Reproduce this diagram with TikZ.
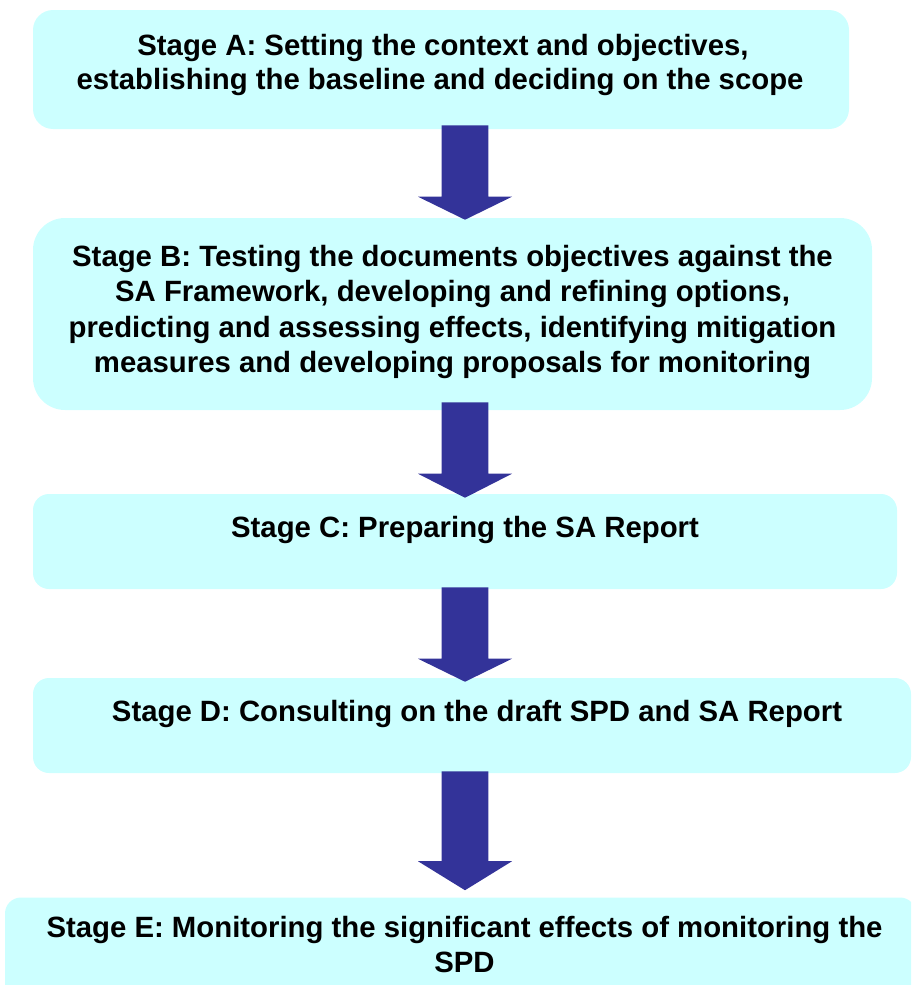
\documentclass[tikz,border=0pt]{standalone}
\usepackage{fontspec}
\setmainfont{Liberation Sans}
\usetikzlibrary{calc}
\definecolor{boxc}{HTML}{CCFFFF}
\definecolor{arrc}{HTML}{333399}
\begin{document}
\begin{tikzpicture}[x=0.75pt,y=-0.75pt,
  stagebox/.style={rectangle, fill=boxc, draw=none, inner sep=0pt},
  txt/.style={font=\fontsize{22pt}{26pt}\selectfont\bfseries, inner sep=0pt, anchor=base},
]
\useasboundingbox (0,0) rectangle (911,985);
\clip (0,0) rectangle (911,985);
% boxes
\node[stagebox, rounded corners=15pt, minimum width=612pt, minimum height=89.25pt] (A) at (441,69.5) {};
\node[stagebox, rounded corners=24pt, minimum width=629.25pt, minimum height=144pt] (B) at (452.5,314) {};
\node[stagebox, rounded corners=12pt, minimum width=648pt, minimum height=71.25pt] (C) at (465,541.5) {};
\node[stagebox, rounded corners=12pt, minimum width=658.5pt, minimum height=71.25pt] (D) at (472,725.5) {};
\node[stagebox, rounded corners=12pt, minimum width=683.25pt, minimum height=76.5pt] (E) at (460.5,948.5) {};
% texts
\node[txt] (A1) at (443,55) {Stage A: Setting the context and objectives,};
\node[txt] (A2) at (440,89) {establishing the baseline and deciding on the scope};
\node[txt] (B1) at (452.5,266) {Stage B: Testing the documents objectives against the};
\node[txt] (B2) at (452.5,301) {SA Framework, developing and refining options,};
\node[txt] (B3) at (452.5,337) {predicting and assessing effects, identifying mitigation};
\node[txt] (B4) at (452.5,372) {measures and developing proposals for monitoring};
\node[txt] (C1) at (465,537) {Stage C: Preparing the SA Report};
\node[txt] (D1) at (477,721) {Stage D: Consulting on the draft SPD and SA Report};
\node[txt] (E1) at (464.5,937) {Stage E: Monitoring the significant effects of monitoring the};
\node[txt] (E2) at (464.5,972) {SPD};
% arrows
\coordinate (ax) at (465,0);
\coordinate (s1) at ($(A.south -| ax)+(0,-4)$);
\coordinate (t1) at ($(B.north -| ax)+(0,2)$);
\coordinate (s2) at ($(B.south -| ax)+(0,-8)$);
\coordinate (t2) at ($(C.north -| ax)+(0,4)$);
\coordinate (s3) at ($(C.south -| ax)+(0,-2)$);
\coordinate (t3) at ($(D.north -| ax)+(0,4)$);
\coordinate (s4) at ($(D.south -| ax)+(0,-2)$);
\coordinate (t4) at ($(E.north -| ax)+(0,-7)$);
\foreach \s/\t/\h in {s1/t1/17.25pt, s2/t2/18pt, s3/t3/17.25pt, s4/t4/21.75pt}{
  \fill[arrc] let \p1=(\s), \p2=(\t) in
    (\x1-17.6pt,\y1) -- (\x1+17.6pt,\y1) -- (\x1+17.6pt,\y2+\h) -- (\x1+35.25pt,\y2+\h)
    -- (\x2,\y2) -- (\x1-35.25pt,\y2+\h) -- (\x1-17.6pt,\y2+\h) -- cycle;
}
\end{tikzpicture}
\end{document}
